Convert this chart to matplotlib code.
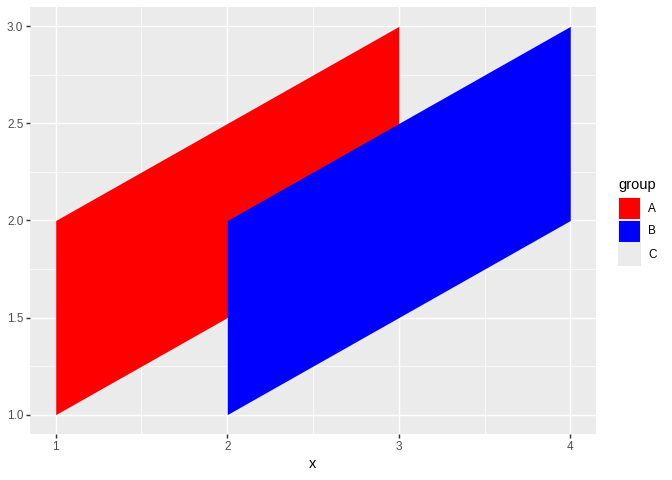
import matplotlib
matplotlib.use("Agg")
import matplotlib.pyplot as plt
from matplotlib.patches import Rectangle

plt.rcParams['font.family'] = ['Liberation Sans', 'DejaVu Sans']

groups = ["A", "B", "C"]
colors = {"A": "#FF0000", "B": "#0000FF", "C": None}
x_vals = {"A": [1, 3], "B": [2, 4]}
ymin_vals = {"A": [1, 2], "B": [1, 2]}
ymax_vals = {"A": [2, 3], "B": [2, 3]}
x_ticks = [1, 2, 3, 4]
y_ticks = [1.0, 1.5, 2.0, 2.5, 3.0]

W, H = 672, 480
fig = plt.figure(figsize=(7, 5), dpi=96)
ax = fig.add_axes([30 / W, 1 - 434 / H, (596 - 30) / W, (434 - 7) / H])
ax.set_facecolor("#EBEBEB")
for s in ax.spines.values():
    s.set_visible(False)

for g in ["A", "B"]:
    ax.fill_between(x_vals[g], ymin_vals[g], ymax_vals[g], color=colors[g], lw=0, zorder=2)

ax.set_xlim(0.85, 4.15)
ax.set_ylim(0.9, 3.1)
ax.set_xticks(x_ticks)
ax.set_xticklabels([str(v) for v in x_ticks])
ax.set_yticks(y_ticks)
ax.set_yticklabels([f"{v:.1f}" for v in y_ticks])
ax.set_xticks([1.5, 2.5, 3.5], minor=True)
ax.set_yticks([1.25, 1.75, 2.25, 2.75], minor=True)
ax.grid(which="major", color="white", lw=1.07, zorder=1)
ax.grid(which="minor", color="white", lw=0.53, zorder=1)
ax.set_axisbelow(True)
ax.tick_params(which="major", length=2.75, width=1.07, color="#333333",
               labelcolor="#4D4D4D", labelsize=8.8, pad=2.2)
ax.tick_params(which="minor", length=0)
ax.set_xlabel("x", fontsize=11, color="black", labelpad=3)
ax.set_ylabel("")

# legend
fig.text(618 / W, 1 - 185 / H, "group", fontsize=11, va="center", ha="left")
key_top = 197
for i, g in enumerate(groups):
    y0 = key_top + i * 23
    fc = colors[g] if colors[g] else "#EBEBEB"
    fig.add_artist(Rectangle((618 / W, 1 - (y0 + 23) / H), 23 / W, 23 / H,
                             transform=fig.transFigure, facecolor="#EBEBEB", lw=0))
    if colors[g]:
        fig.add_artist(Rectangle((619 / W, 1 - (y0 + 22) / H), 21 / W, 21 / H,
                                 transform=fig.transFigure, facecolor=fc, lw=0))
    fig.text(648 / W, 1 - (y0 + 11.5) / H, g, fontsize=8.8, va="center", ha="left")

fig.savefig("out.png", dpi=96)
